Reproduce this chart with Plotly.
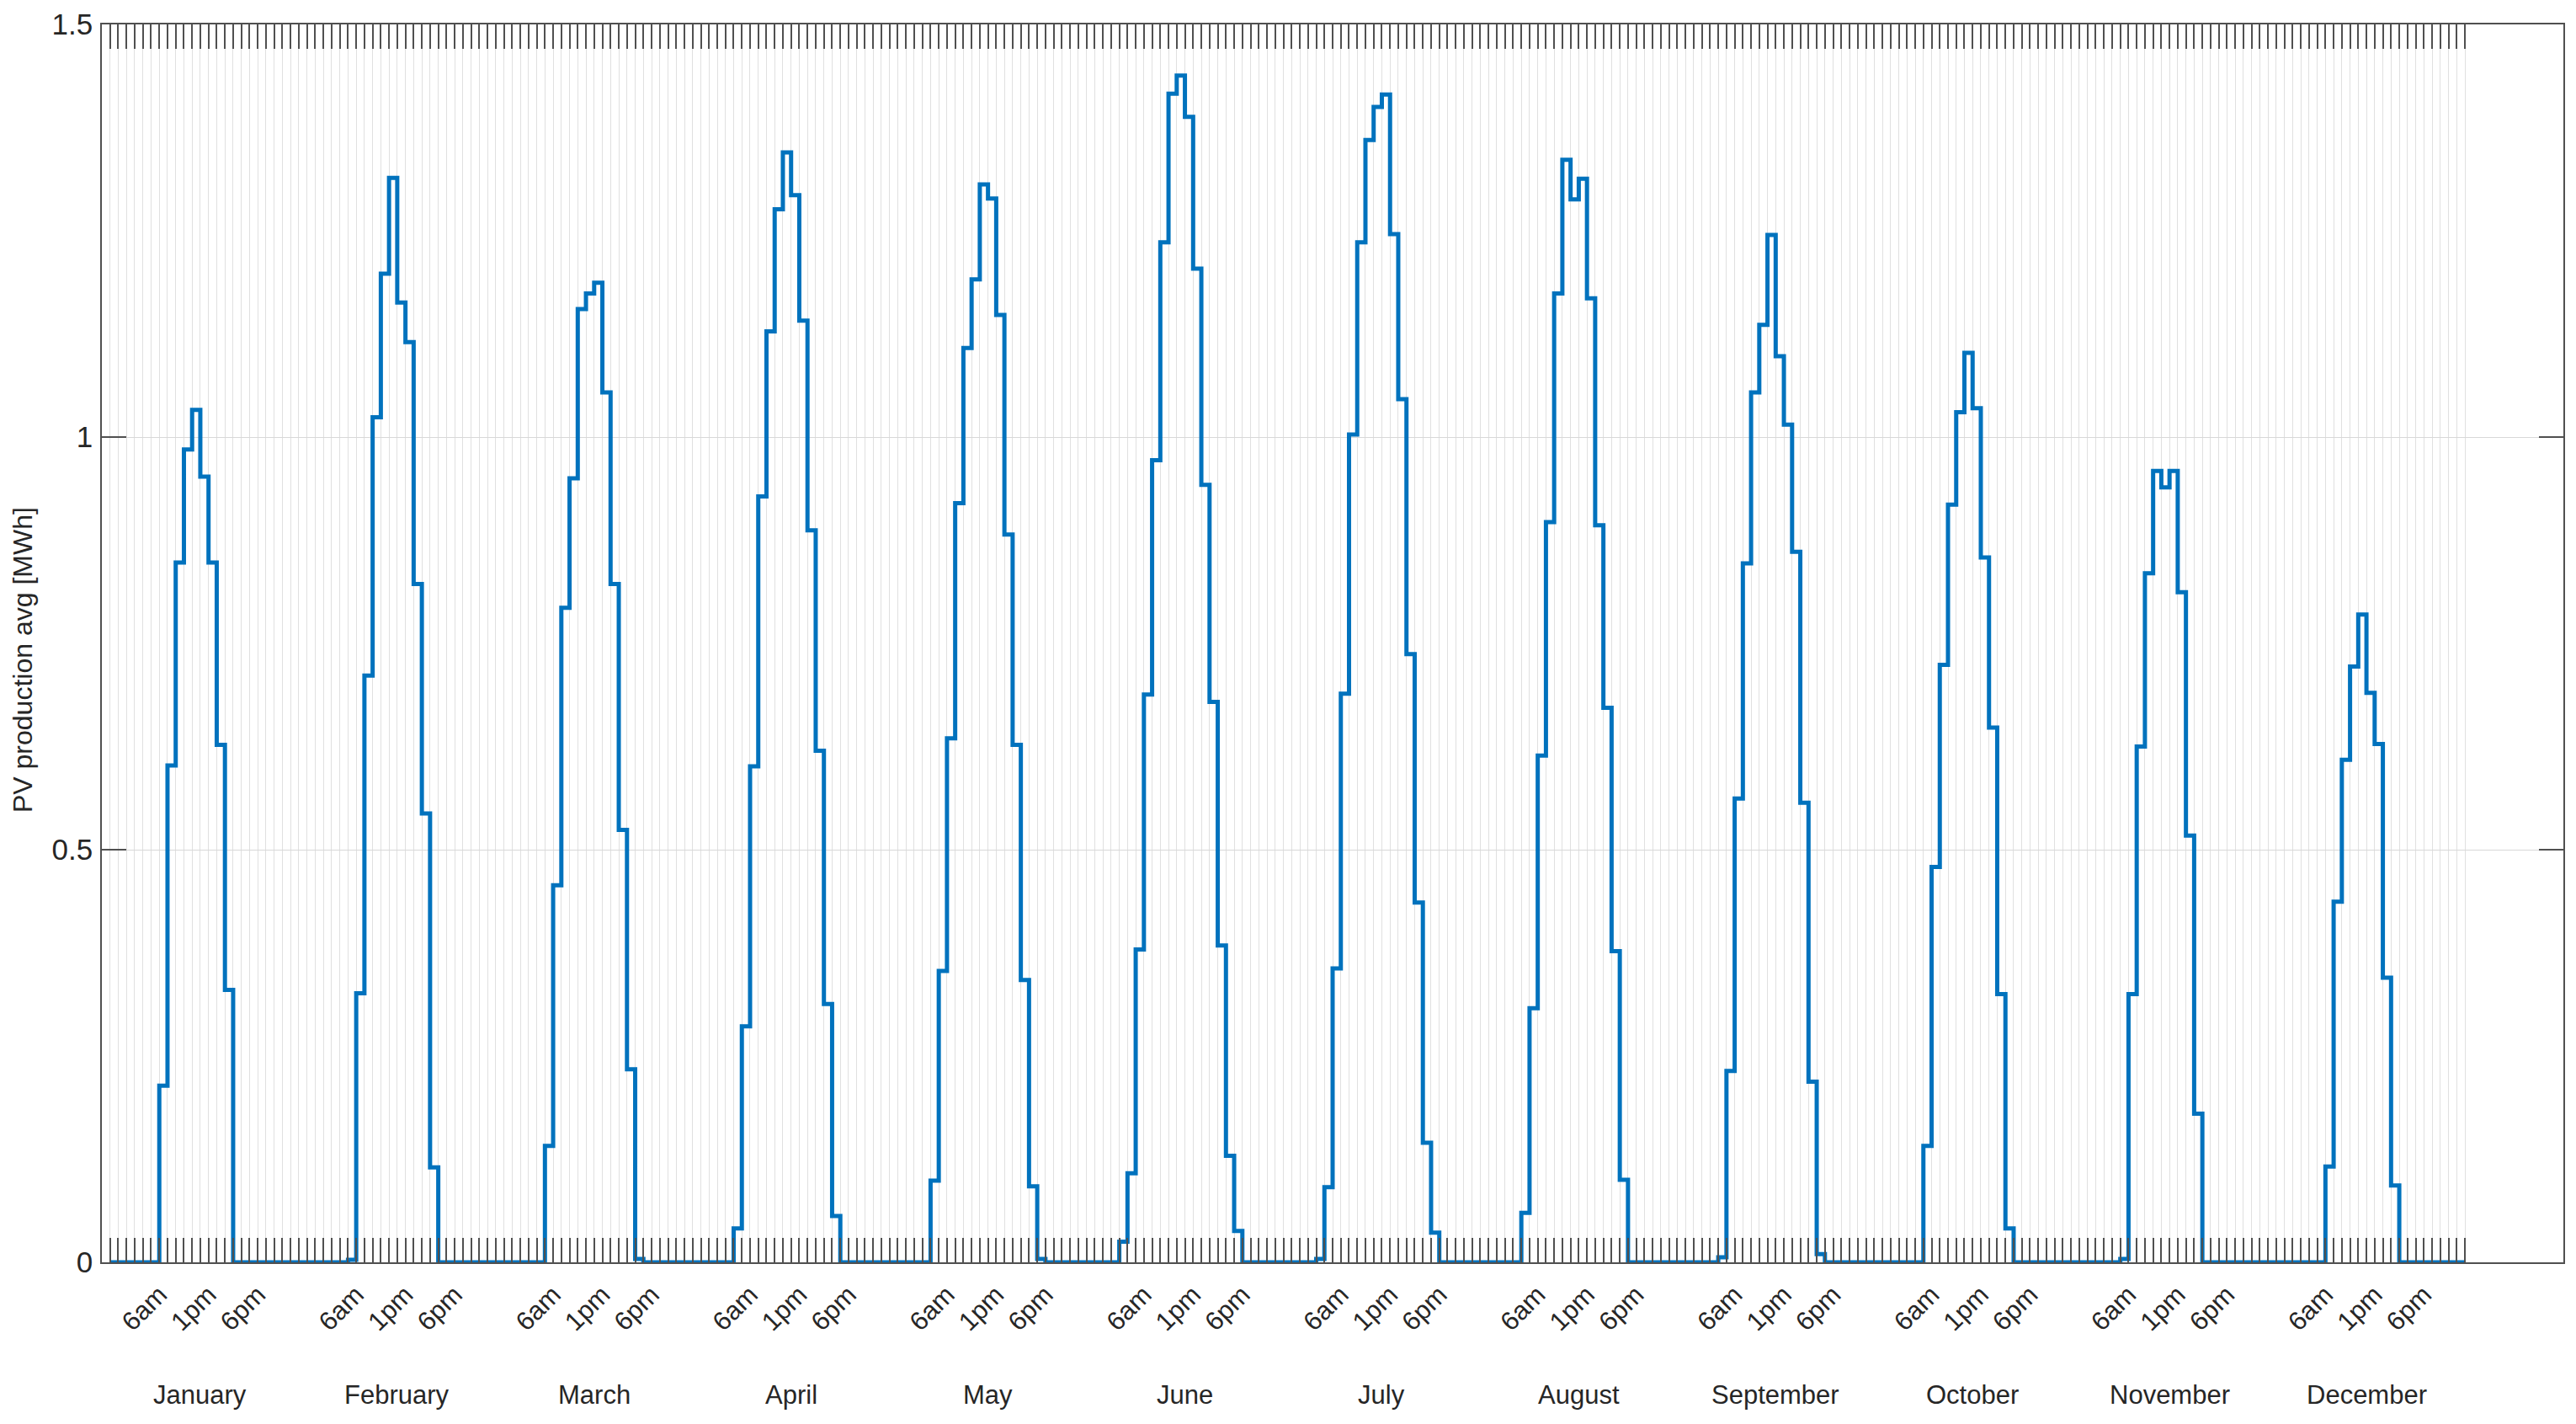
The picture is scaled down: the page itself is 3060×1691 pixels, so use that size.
import plotly.graph_objects as go

# ---- data (hourly average PV production, MWh), hours 1..24 per month ----
months = ["January", "February", "March", "April", "May", "June",
          "July", "August", "September", "October", "November", "December"]

jan = [0, 0, 0, 0, 0, 0, 0.214, 0.602, 0.848, 0.985, 1.033, 0.952, 0.848, 0.627, 0.330,
       0, 0, 0, 0, 0, 0, 0, 0, 0]
feb = [0, 0, 0, 0, 0, 0.003, 0.326, 0.711, 1.024, 1.198, 1.314, 1.163, 1.115, 0.822, 0.544, 0.115,
       0, 0, 0, 0, 0, 0, 0, 0]
mar = [0, 0, 0, 0, 0, 0.141, 0.457, 0.793, 0.950, 1.155, 1.174, 1.187, 1.054, 0.822, 0.524, 0.234, 0.004,
       0, 0, 0, 0, 0, 0, 0]
apr = [0, 0, 0, 0, 0.041, 0.286, 0.601, 0.928, 1.128, 1.276, 1.345, 1.293, 1.141, 0.887, 0.620, 0.313, 0.056,
       0, 0, 0, 0, 0, 0, 0]
may = [0, 0, 0, 0, 0.099, 0.353, 0.635, 0.920, 1.108, 1.191, 1.306, 1.289, 1.148, 0.882, 0.627, 0.342, 0.092, 0.004,
       0, 0, 0, 0, 0, 0]
jun = [0, 0, 0, 0.025, 0.108, 0.379, 0.688, 0.972, 1.236, 1.416, 1.438, 1.388, 1.204, 0.942, 0.679, 0.384, 0.129, 0.038,
       0, 0, 0, 0, 0, 0]
jul = [0, 0, 0, 0.004, 0.091, 0.356, 0.689, 1.003, 1.236, 1.360, 1.400, 1.415, 1.246, 1.046, 0.737, 0.436, 0.145, 0.036,
       0, 0, 0, 0, 0, 0]
aug = [0, 0, 0, 0, 0.060, 0.308, 0.614, 0.897, 1.174, 1.336, 1.288, 1.313, 1.168, 0.893, 0.672, 0.377, 0.100,
       0, 0, 0, 0, 0, 0, 0]
sep = [0, 0, 0, 0, 0.006, 0.232, 0.562, 0.847, 1.054, 1.136, 1.245, 1.098, 1.015, 0.861, 0.557, 0.219, 0.010,
       0, 0, 0, 0, 0, 0, 0]
oct = [0, 0, 0, 0, 0, 0.141, 0.479, 0.724, 0.918, 1.030, 1.102, 1.035, 0.854, 0.648, 0.325, 0.041,
       0, 0, 0, 0, 0, 0, 0, 0]
nov = [0, 0, 0, 0, 0, 0.004, 0.325, 0.625, 0.835, 0.959, 0.939, 0.959, 0.812, 0.517, 0.180,
       0, 0, 0, 0, 0, 0, 0, 0, 0]
dec = [0, 0, 0, 0, 0, 0, 0.116, 0.437, 0.609, 0.722, 0.785, 0.690, 0.628, 0.345, 0.093,
       0, 0, 0, 0, 0, 0, 0, 0, 0]

hour_ticks = [7, 13, 19]
hour_labels = ["6am", "1pm", "6pm"]
y_ticks = [0, 0.5, 1, 1.5]
y_labels = ["0", "0.5", "1", "1.5"]

# ---- build series ----
series = jan + feb + mar + apr + may + jun + jul + aug + sep + oct + nov + dec
x = list(range(1, len(series) + 1))

tickvals = x
ticktext = []
for v in x:
    h = (v - 1) % 24 + 1
    ticktext.append(hour_labels[hour_ticks.index(h)] if h in hour_ticks else "")

FONT = "Liberation Sans, Arial, Helvetica, sans-serif"
TXT = "#262626"
AX = "#505050"

fig = go.Figure()
fig.add_trace(go.Scatter(x=x, y=series, mode="lines",
                         line=dict(shape="hv", color="#0072BD", width=5),
                         showlegend=False))

# page body adds an 8px margin: size the figure so the plot area lands where the reference has it
fig.update_layout(
    width=3052, height=1683,
    margin=dict(l=113, r=15, t=21, b=192),
    paper_bgcolor="white", plot_bgcolor="white",
    font=dict(family=FONT, size=30, color=TXT),
    xaxis=dict(range=[0, 300], tickvals=tickvals, ticktext=ticktext,
               tickangle=-45, ticks="inside", ticklen=29, tickwidth=2, tickcolor=AX,
               showline=True, linecolor=AX, linewidth=1.8, mirror="ticks",
               showgrid=True, gridcolor="#e0e0e0", gridwidth=1,
               zeroline=False, tickfont=dict(size=31, color=TXT),
               ticklabelstandoff=6, automargin=False),
    yaxis=dict(range=[0, 1.5], tickvals=y_ticks, ticktext=y_labels,
               ticks="inside", ticklen=29, tickwidth=2, tickcolor=AX,
               showline=True, linecolor=AX, linewidth=1.8, mirror="ticks",
               showgrid=True, gridcolor="#d8d8d8", gridwidth=1.2,
               zeroline=False, tickfont=dict(size=35, color=TXT),
               ticklabelstandoff=2, automargin=False),
)

annotations = []
for i, m in enumerate(months):
    annotations.append(dict(x=12 + 24 * i, y=0, xref="x", yref="paper",
                            text=m, showarrow=False, yshift=-157,
                            xanchor="center", yanchor="middle",
                            font=dict(size=31, color=TXT, family=FONT)))
annotations.append(dict(x=0, y=0.5, xref="paper", yref="paper",
                        text="PV production avg [MWh]", textangle=-90,
                        showarrow=False, xshift=-94, yshift=-20,
                        xanchor="center", yanchor="middle",
                        font=dict(size=32, color=TXT, family=FONT)))
fig.update_layout(annotations=annotations)

fig.write_html("out.html")
